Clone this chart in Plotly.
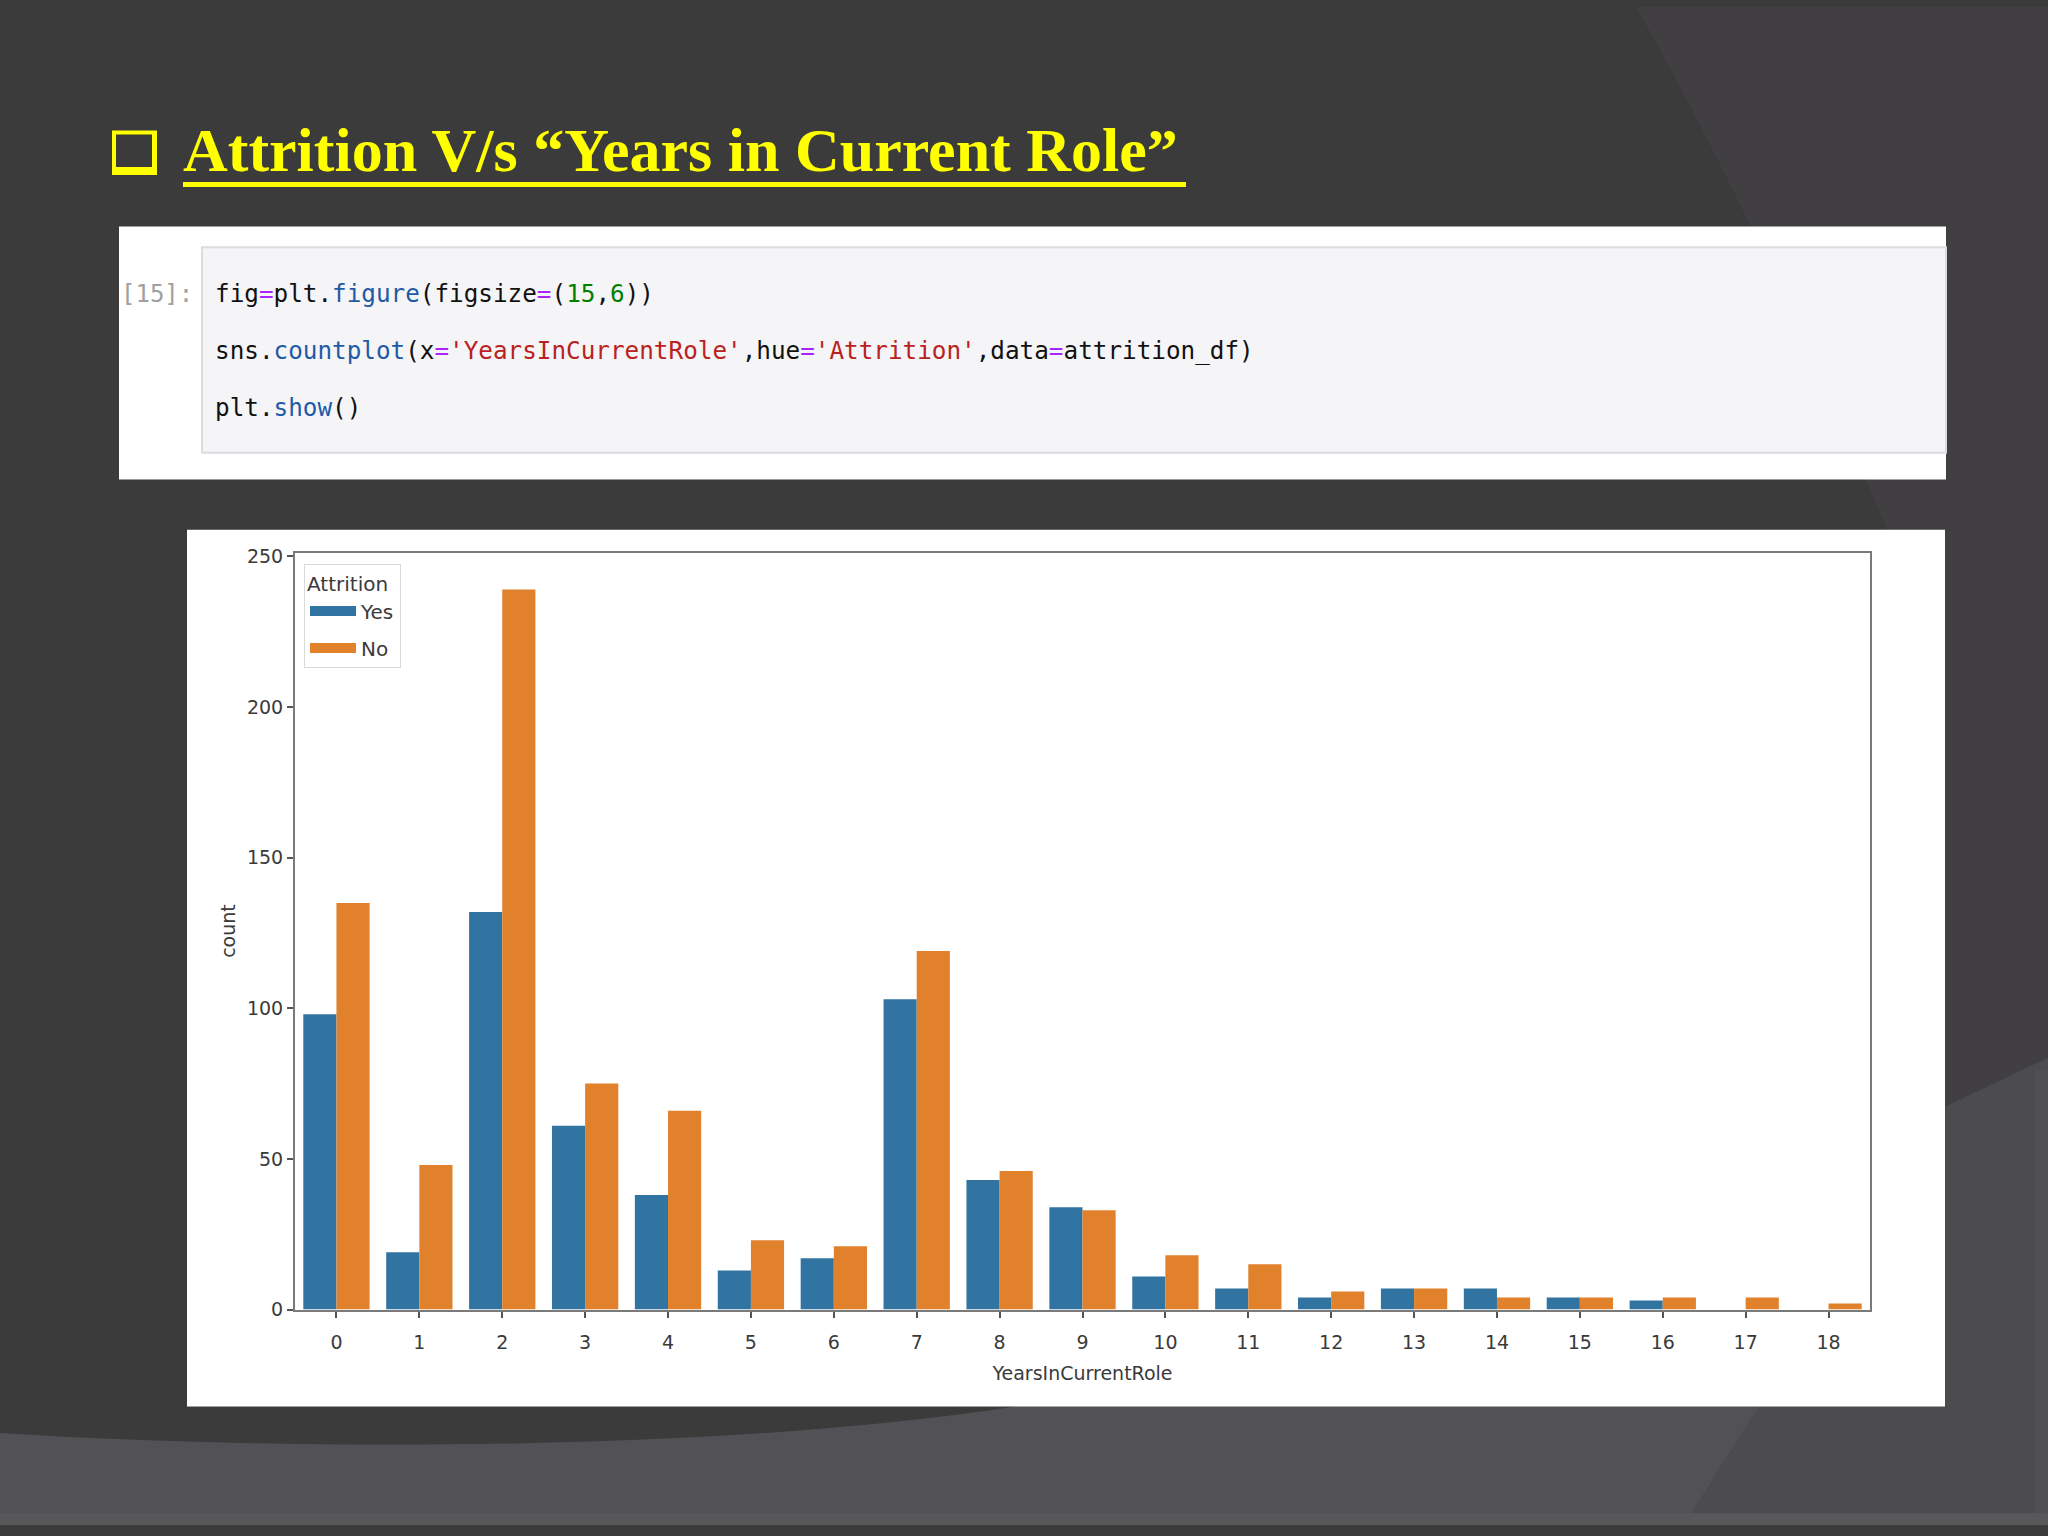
import plotly.graph_objects as go

# ---------------- data ----------------
years = list(range(19))
tick_labels = [str(y) for y in years]
attr_yes = [98, 19, 132, 61, 38, 13, 17, 103, 43, 34, 11, 7, 4, 7, 7, 4, 3, 0, 0]
attr_no = [135, 48, 239, 75, 66, 23, 21, 119, 46, 33, 18, 15, 6, 7, 4, 4, 4, 4, 2]
y_ticks = [0, 50, 100, 150, 200, 250]

W, H = 2048, 1536
BG = "#3b3b3b"
YES_C = "#3274a1"
NO_C = "#e1812c"


def fx(x):
    return x / W


def fy(y):
    return 1 - y / H


def pt(x, y):
    return f"{fx(x):.5f},{fy(y):.5f}"


shapes = []
# --- slide background decorations ---
shapes.append(dict(type="path", xref="paper", yref="paper", layer="below",
                   path=f"M{pt(1636,0)} Q{pt(1760,220)} {pt(1900,560)} L{pt(1940,1115)} L{pt(2048,1063)} L{pt(2048,0)} Z",
                   fillcolor="#413f42", line=dict(width=0)))
shapes.append(dict(type="path", xref="paper", yref="paper", layer="below",
                   path=(f"M{pt(1940,1115)} L{pt(2048,1063)} L{pt(2048,1536)} L{pt(1684,1536)} "
                         f"L{pt(1762,1412)} L{pt(1940,1412)} Z"),
                   fillcolor="#4c4b4e", line=dict(width=0)))
shapes.append(dict(type="rect", xref="paper", yref="paper", layer="below",
                   x0=fx(2035), x1=1, y0=0, y1=fy(1075),
                   fillcolor="#504f52", line=dict(width=0)))
shapes.append(dict(type="path", xref="paper", yref="paper", layer="below",
                   path=(f"M{pt(0,1443)} C{pt(300,1462)} {pt(750,1462)} {pt(1040,1412)} "
                         f"L{pt(1762,1412)} L{pt(1684,1536)} L{pt(0,1536)} Z"),
                   fillcolor="#525155", line=dict(width=0)))
shapes.append(dict(type="rect", xref="paper", yref="paper", layer="below",
                   x0=0, x1=1, y0=0, y1=fy(1524),
                   fillcolor="#58575a", line=dict(width=0)))

# --- title bullet (box glyph) ---
shapes.append(dict(type="rect", xref="paper", yref="paper", layer="below",
                   x0=fx(112), x1=fx(157), y0=fy(125), y1=fy(170),
                   fillcolor="#ffff00", line=dict(width=0)))
shapes.append(dict(type="rect", xref="paper", yref="paper", layer="below",
                   x0=fx(116), x1=fx(152), y0=fy(129), y1=fy(162),
                   fillcolor=BG, line=dict(width=0)))
# title underline
shapes.append(dict(type="line", xref="paper", yref="paper", layer="below",
                   x0=fx(183), x1=fx(1186), y0=fy(179.5), y1=fy(179.5),
                   line=dict(color="#ffff00", width=5)))

# --- code panel ---
shapes.append(dict(type="rect", xref="paper", yref="paper", layer="below",
                   x0=fx(119), x1=fx(1946), y0=fy(222), y1=fy(478),
                   fillcolor="#ffffff", line=dict(width=0)))
shapes.append(dict(type="rect", xref="paper", yref="paper", layer="below",
                   x0=fx(202), x1=fx(1946), y0=fy(243), y1=fy(451),
                   fillcolor="#f5f4f6", line=dict(color="#dcdbde", width=2)))

# --- chart panel ---
shapes.append(dict(type="rect", xref="paper", yref="paper", layer="below",
                   x0=fx(187), x1=fx(1945), y0=fy(529), y1=fy(1416),
                   fillcolor="#ffffff", line=dict(width=0)))

# ---------------- figure ----------------
fig = go.Figure()
fig.add_trace(go.Bar(x=years, y=attr_yes, name="Yes", showlegend=False,
                     marker=dict(color=YES_C, line=dict(width=0))))
fig.add_trace(go.Bar(x=years, y=attr_no, name="No", showlegend=False,
                     marker=dict(color=NO_C, line=dict(width=0))))
# legend entries drawn as wide patches (matplotlib style)
fig.add_trace(go.Scatter(x=[None], y=[None], mode="lines", name="Yes", legendgroup="yes",
                         line=dict(color=YES_C, width=11), hoverinfo="skip"))
fig.add_trace(go.Scatter(x=[None], y=[None], mode="lines", name="No", legendgroup="no",
                         line=dict(color=NO_C, width=11), hoverinfo="skip"))

OP = "#aa22ff"
PR = "#1f5aa6"
ST = "#ba2121"
NU = "#008000"


def c(t, col):
    return f"<span style='color:{col}'>{t}</span>"


code_lines = [
    "fig" + c("=", OP) + "plt." + c("figure", PR) + "(figsize" + c("=", OP) + "(" + c("15", NU) + "," + c("6", NU) + "))",
    "sns." + c("countplot", PR) + "(x" + c("=", OP) + c("'YearsInCurrentRole'", ST) + ",hue" + c("=", OP)
    + c("'Attrition'", ST) + ",data" + c("=", OP) + "attrition_df)",
    "plt." + c("show", PR) + "()",
]
code_y = [290, 348, 405]

annotations = []
annotations.append(dict(xref="paper", yref="paper", x=fx(181), y=fy(145), xanchor="left", yanchor="middle",
                        text="<b>Attrition V/s \u201cYears in Current Role\u201d</b>", showarrow=False,
                        font=dict(family="Liberation Serif, Times New Roman, serif", size=62, color="#ffff00")))
annotations.append(dict(xref="paper", yref="paper", x=fx(119), y=fy(290), xanchor="left", yanchor="middle",
                        text="[15]:", showarrow=False,
                        font=dict(family="DejaVu Sans Mono, monospace", size=24, color="#a0a0a0")))
for line, yy in zip(code_lines, code_y):
    annotations.append(dict(xref="paper", yref="paper", x=fx(213), y=fy(yy), xanchor="left", yanchor="middle",
                            text=line, showarrow=False, align="left",
                            font=dict(family="DejaVu Sans Mono, monospace", size=24.3, color="#111111")))

axis_font = dict(family="DejaVu Sans, sans-serif", size=19, color="#3a3a3a")

fig.update_layout(
    width=W, height=H,
    margin=dict(l=0, r=0, t=0, b=0),
    paper_bgcolor=BG,
    plot_bgcolor="rgba(0,0,0,0)",
    barmode="group", bargap=0.2, bargroupgap=0,
    shapes=shapes,
    annotations=annotations,
    showlegend=True,
    legend=dict(
        title=dict(text="Attrition", font=dict(family="DejaVu Sans, sans-serif", size=20, color="#3a3a3a"), side="top"),
        x=fx(304), y=fy(564), xanchor="left", yanchor="top",
        bgcolor="rgba(255,255,255,0.9)", bordercolor="#d9d9d9", borderwidth=1,
        font=dict(family="DejaVu Sans, sans-serif", size=20, color="#3a3a3a"),
        itemwidth=46, tracegroupgap=8,
    ),
    xaxis=dict(
        domain=[fx(295), fx(1870)],
        range=[-0.5, 18.5],
        tickmode="array", tickvals=years, ticktext=tick_labels,
        showgrid=False, zeroline=False,
        showline=True, linecolor="#7a7a7a", linewidth=2, mirror=True,
        ticks="outside", ticklen=6, tickcolor="#555555", tickwidth=1.5,
        ticklabelstandoff=9,
        tickfont=axis_font,
        title=dict(text="YearsInCurrentRole", font=dict(family="DejaVu Sans, sans-serif", size=19, color="#3a3a3a"), standoff=14),
    ),
    yaxis=dict(
        domain=[fy(1318), fy(552)],
        range=[0, 251.3],
        tickmode="array", tickvals=y_ticks,
        showgrid=False, zeroline=False,
        showline=True, linecolor="#7a7a7a", linewidth=2, mirror=True,
        ticks="outside", ticklen=6, tickcolor="#555555", tickwidth=1.5,
        tickfont=axis_font,
        title=dict(text="count", font=dict(family="DejaVu Sans, sans-serif", size=19, color="#3a3a3a"), standoff=6),
    ),
)

fig.write_html(
    "out.html",
    config={"displayModeBar": False},
    post_script=("document.body.style.margin='0';document.body.style.padding='0';"
                 "document.body.style.background='#3b3b3b';"
                 "document.documentElement.style.overflow='hidden';"),
)
